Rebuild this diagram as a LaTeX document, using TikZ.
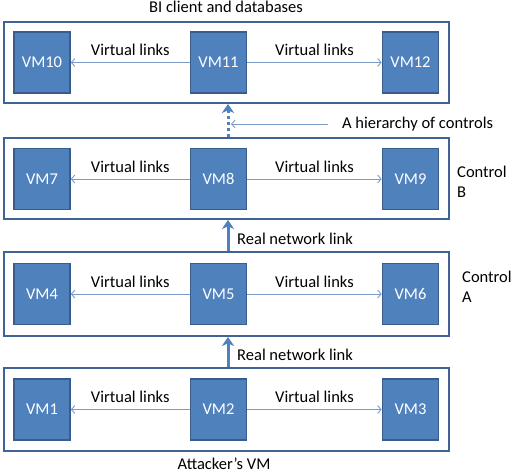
\documentclass[tikz,border=0pt]{standalone}
\usepackage{fontspec}
\setmainfont{Carlito}
\usetikzlibrary{arrows.meta}
\definecolor{vmfill}{HTML}{4F81BD}
\definecolor{vmline}{HTML}{385D8A}
\definecolor{frameline}{HTML}{3F6394}
\definecolor{vlink}{HTML}{7A9CCB}
\definecolor{arr}{HTML}{4F81BD}
\begin{document}
\begin{tikzpicture}[x=1pt,y=-1pt,
  every node/.style={font=\fontsize{16.5pt}{20pt}\selectfont},
  vmbox/.style={draw=vmline,line width=1.6pt,fill=vmfill,text=white,minimum width=56pt,minimum height=61pt,inner sep=0pt},
  framebox/.style={draw=frameline,line width=1.8pt,minimum width=445pt,inner sep=0pt},
  vlinkarrow/.style={draw=vlink,line width=0.9pt,-{Straight Barb[length=3.5pt,width=8pt]}},
  realarrow/.style={draw=arr,line width=3pt,-{Stealth[length=9pt,width=12pt,inset=2.5pt]}},
  dotarrow/.style={draw=arr,line width=3pt,dash pattern=on 3pt off 3pt,-{Stealth[length=9pt,width=12pt,inset=2.5pt]}},
  lbl/.style={inner sep=0pt,text=black}
]
\useasboundingbox (0,0) rectangle (514,474);
% frames
\node[framebox,minimum height=81pt] (f1) at (226.5,62.5) {};
\node[framebox,minimum height=81pt] (f2) at (226.5,178.5) {};
\node[framebox,minimum height=84pt] (f3) at (226.5,294) {};
\node[framebox,minimum height=83pt] (f4) at (226.5,409.5) {};
% VMs
\node[vmbox] (vm10) at (42,62.5) {VM10};
\node[vmbox] (vm11) at (218.5,62.5) {VM11};
\node[vmbox] (vm12) at (410.5,62.5) {VM12};
\node[vmbox] (vm7) at (42,179) {VM7};
\node[vmbox] (vm8) at (218.5,179) {VM8};
\node[vmbox] (vm9) at (410.5,179) {VM9};
\node[vmbox] (vm4) at (42,294) {VM4};
\node[vmbox] (vm5) at (218.5,294) {VM5};
\node[vmbox] (vm6) at (410.5,294) {VM6};
\node[vmbox] (vm1) at (42,409.5) {VM1};
\node[vmbox] (vm2) at (218.5,409.5) {VM2};
\node[vmbox] (vm3) at (410.5,409.5) {VM3};
% virtual links
\foreach \a/\b/\c in {vm11/vm10/vm12, vm8/vm7/vm9, vm5/vm4/vm6, vm2/vm1/vm3}{
  \draw[vlinkarrow] (\a.west) -- (\b.east) node[lbl,midway,above=6pt] {Virtual links};
  \draw[vlinkarrow] (\a.east) -- (\c.west) node[lbl,midway,above=6pt] {Virtual links};
}
% vertical arrows
\coordinate (ax) at (228,0);
\draw[realarrow] (f4.north -| ax) -- (f3.south -| ax);
\draw[realarrow] (f3.north -| ax) -- (f2.south -| ax);
\draw[dotarrow] (f2.north -| ax) -- (f1.south -| ax);
% labels
\node[lbl,anchor=west] (rn1) at (237,355) {Real network link};
\node[lbl,anchor=west] (rn2) at (237,239) {Real network link};
\node[lbl,anchor=west] (hier) at (342,124) {A hierarchy of controls};
\coordinate (hp) at (231,124);
\draw[vlinkarrow] ([xshift=-14pt]hier.west) -- (hp);
\node[lbl,anchor=west,align=left] (cb) at (457,182) {Control\\B};
\node[lbl,anchor=west,align=left] (ca) at (462,287) {Control\\A};
\node[lbl] (top) at (226,7) {BI client and databases};
\node[lbl] (bot) at (224,464) {Attacker’s VM};
\end{tikzpicture}
\end{document}
